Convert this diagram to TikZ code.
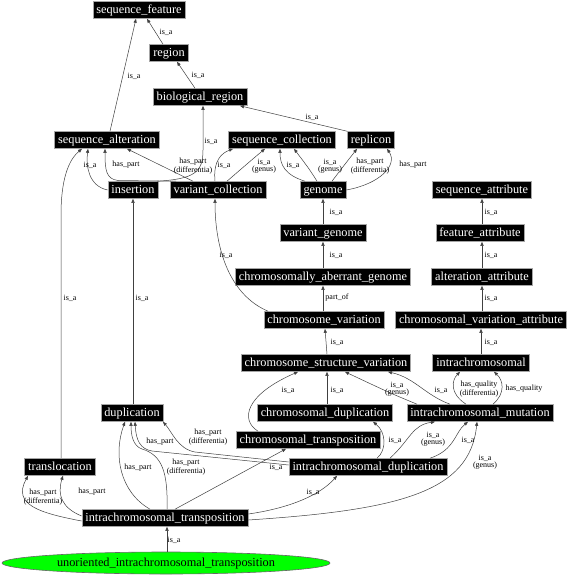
\documentclass[tikz,border=0pt]{standalone}
\usepackage{fontspec}
\setmainfont{Liberation Serif}
\usetikzlibrary{arrows.meta,shapes.geometric}
\begin{document}
\begin{tikzpicture}[x=1pt,y=-1pt,
  nb/.style={fill=black,draw=black!35,line width=0.6pt,text=white,font=\fontsize{12.3}{13}\selectfont,
    inner xsep=3.5pt,inner ysep=0pt,minimum height=17pt,text height=8.5pt,text depth=2.5pt},
  ell/.style={ellipse,fill=green,draw=black!60,line width=0.6pt,font=\fontsize{12.3}{13}\selectfont,
    inner sep=0pt,minimum width=328pt,minimum height=22pt,text height=8.5pt,text depth=2.5pt},
  lab/.style={font=\fontsize{8}{7}\selectfont,align=center,inner sep=0pt},
  ed/.style={draw=black!75,line width=0.5pt,-{Triangle[length=4pt,width=3.2pt]}}]
\useasboundingbox[fill=white] (0,0) rectangle (573,576);
% nodes
\node[nb] (sf) at (139,10) {sequence\_feature};
\node[nb] (rg) at (169,53) {region};
\node[nb] (br) at (200,97) {biological\_region};
\node[nb] (sa) at (107,140) {sequence\_alteration};
\node[nb] (sc) at (282,140) {sequence\_collection};
\node[nb] (rp) at (371,140) {replicon};
\node[nb] (ins) at (133,190) {insertion};
\node[nb] (vc) at (218,190) {variant\_collection};
\node[nb] (gn) at (323,190) {genome};
\node[nb] (sat) at (482,190) {sequence\_attribute};
\node[nb] (vg) at (323,233) {variant\_genome};
\node[nb] (fa) at (480,233) {feature\_attribute};
\node[nb] (cag) at (323,277) {chromosomally\_aberrant\_genome};
\node[nb] (aa) at (482,277) {alteration\_attribute};
\node[nb] (cv) at (324,320) {chromosome\_variation};
\node[nb] (cva) at (481,320) {chromosomal\_variation\_attribute};
\node[nb] (csv) at (326,363) {chromosome\_structure\_variation};
\node[nb] (ic) at (481,363) {intrachromosomal};
\node[nb] (dup) at (132,413) {duplication};
\node[nb] (cd) at (325,413) {chromosomal\_duplication};
\node[nb] (im) at (480,413) {intrachromosomal\_mutation};
\node[nb] (ct) at (308,440) {chromosomal\_transposition};
\node[nb] (id) at (368,467) {intrachromosomal\_duplication};
\node[nb] (tl) at (60,467) {translocation};
\node[nb] (it) at (165,518) {intrachromosomal\_transposition};
\node[ell] (uit) at (166,563) {unoriented\_intrachromosomal\_transposition};
% edges
\draw[ed] ([xshift=-6pt]rg.north) -- ([xshift=8pt]sf.south);
\draw[ed] ([xshift=3pt]sa.north) -- ([xshift=-3pt]sf.south);
\draw[ed] ([xshift=-5pt]br.north) -- ([xshift=8pt]rg.south);
\draw[ed] ([xshift=-24pt]rp.north) -- ([xshift=40pt]br.south);
\draw[ed] ([xshift=24pt]ins.north) .. controls (195,179) and (203,172) .. (203,150) -- ([xshift=3pt]br.south);
\draw[ed] (ins.west) .. controls (88,186) and (86,165) .. ([xshift=-19pt]sa.south);
\draw[ed] ([xshift=-42pt]vc.north) -- (118,180.5) .. controls (106,179) and (105,170) .. ([xshift=-2pt]sa.south);
\draw[ed] ([xshift=-25pt]vc.north) -- ([xshift=20pt]sa.south);
\draw[ed] ([xshift=-3pt]vc.north) .. controls (213,160) and (222,153) .. ([xshift=-49pt]sc.south);
\draw[ed] ([xshift=9pt]vc.north) .. controls (240,170) and (255,157) .. ([xshift=-17pt]sc.south);
\draw[ed] ([xshift=-18pt]gn.north) .. controls (285,175) and (280,165) .. ([xshift=-2pt]sc.south);
\draw[ed] ([xshift=-6pt]gn.north) .. controls (310,170) .. ([xshift=12pt]sc.south);
\draw[ed] ([xshift=9pt]gn.north) .. controls (342,168) .. ([xshift=-14pt]rp.south);
\draw[ed] (gn.east) .. controls (380,184) and (398,165) .. ([xshift=16pt]rp.south);
\draw[ed] (vg) -- (gn);
\draw[ed] (cag) -- (vg);
\draw[ed] (cag.south |- cv.north) -- (cag);
\draw[ed] ([xshift=-56pt]cv.north) .. controls (230,295) and (215,250) .. ([xshift=-3pt]vc.south);
\draw[ed] ([xshift=1pt]csv.north) -- ([xshift=1pt]cv.south);
\draw[ed] (fa.north -| sat.south) -- (sat);
\draw[ed] (aa.north -| sat.south) -- (fa.south -| sat.south);
\draw[ed] (cva.north -| sat.south) -- (aa);
\draw[ed] (ic.north) -- (cva.south -| ic.north);
\draw[ed] ([xshift=1pt]dup.north) -- (ins.south);
\draw[ed] ([xshift=1pt]tl.north) -- (61,215) .. controls (61,172) and (72,157) .. ([xshift=-25pt]sa.south);
\draw[ed] ([xshift=2pt]cd.north) -- ([xshift=1pt]csv.south);
\draw[ed] ([xshift=-50pt]ct.north) .. controls (240,420) and (245,395) .. ([xshift=-28pt]csv.south);
\draw[ed] ([xshift=-63pt]im.north) .. controls (390,393) .. ([xshift=19pt]csv.south);
\draw[ed] ([xshift=-30pt]im.north) .. controls (425,395) and (415,378) .. ([xshift=62pt]csv.south);
\draw[ed] ([xshift=-14pt]im.north) .. controls (449,393) and (452,380) .. ([xshift=-21pt]ic.south);
\draw[ed] ([xshift=13pt]im.north) .. controls (506,393) and (503,380) .. ([xshift=13pt]ic.south);
\draw[ed] ([xshift=9pt]id.north) .. controls (387,450) and (386,432) .. ([xshift=48pt]cd.south);
\draw[ed] ([xshift=22pt]id.north) .. controls (410,440) and (412,425) .. ([xshift=-45pt]im.south);
\draw[ed] ([xshift=62pt]id.north) .. controls (455,450) and (455,432) .. ([xshift=-12pt]im.south);
\draw[ed] ([yshift=2pt]id.west) -- (152,451) .. controls (140,449) and (136,440) .. ([xshift=3pt]dup.south);
\draw[ed] ([yshift=5pt]id.west) -- (195,452) .. controls (178,449) and (172,432) .. ([xshift=31pt]dup.south);
\draw[ed] ([yshift=4pt]it.east) .. controls (290,508) and (320,495) .. ([xshift=-31pt]id.south);
\draw[ed] ([xshift=10pt]it.north) -- ([xshift=-22pt]ct.south);
\draw[ed] ([yshift=-2pt]it.east) .. controls (400,510) and (470,492) .. ([xshift=-3pt]im.south);
\draw[ed] ([xshift=-15pt]it.north) .. controls (120,492) and (113,455) .. ([xshift=-7pt]dup.south);
\draw[ed] ([xshift=2pt]it.north) .. controls (168,472) and (162,455) .. (142,449) .. controls (133,446) and (131,435) .. ([xshift=-1pt]dup.south);
\draw[ed] ([yshift=-3pt]it.west) .. controls (40,513) and (12,505) .. ([xshift=-32pt]tl.south);
\draw[ed] ([yshift=2pt]it.west) .. controls (62,508) and (57,495) .. ([xshift=3pt]tl.south);
\draw[ed] ([xshift=1pt]uit.north) -- ([xshift=2pt]it.south);
% labels
\node[lab] (l1) at (166,32) {is\_a};
\node[lab] (l2) at (134,76) {is\_a};
\node[lab] (l3) at (198,75) {is\_a};
\node[lab] (l4) at (312,117) {is\_a};
\node[lab] (l5) at (211,141) {is\_a};
\node[lab] (l6) at (90,165) {is\_a};
\node[lab] (l7) at (126,165) {has\_part};
\node[lab] (l8) at (193,166) {has\_part\\(differentia)};
\node[lab] (l9) at (224,165) {is\_a};
\node[lab] (l10) at (264,166) {is\_a\\(genus)};
\node[lab] (l11) at (293,165) {is\_a};
\node[lab] (l12) at (330,166) {is\_a\\(genus)};
\node[lab] (l13) at (370,166) {has\_part\\(differentia)};
\node[lab] (l14) at (413,165) {has\_part};
\node[lab] (l15) at (336,212) {is\_a};
\node[lab] (l16) at (336,255) {is\_a};
\node[lab] (l17) at (337,298) {part\_of};
\node[lab] (l18) at (226,255) {is\_a};
\node[lab] (l19) at (337,342) {is\_a};
\node[lab] (l20) at (491,212) {is\_a};
\node[lab] (l21) at (491,255) {is\_a};
\node[lab] (l22) at (491,298) {is\_a};
\node[lab] (l23) at (491,342) {is\_a};
\node[lab] (l24) at (142,298) {is\_a};
\node[lab] (l25) at (70,298) {is\_a};
\node[lab] (l26) at (337,390) {is\_a};
\node[lab] (l27) at (288,390) {is\_a};
\node[lab] (l28) at (397,389) {is\_a\\(genus)};
\node[lab] (l29) at (441,390) {is\_a};
\node[lab] (l30) at (479,389) {has\_quality\\(differentia)};
\node[lab] (l31) at (524,389) {has\_quality};
\node[lab] (l32) at (395,440) {is\_a};
\node[lab] (l33) at (433,439) {is\_a\\(genus)};
\node[lab] (l34) at (468,440) {is\_a};
\node[lab] (l35) at (160,442) {has\_part};
\node[lab] (l36) at (208,437) {has\_part\\(differentia)};
\node[lab] (l37) at (313,492) {is\_a};
\node[lab] (l38) at (276,467) {is\_a};
\node[lab] (l39) at (485,462) {is\_a\\(genus)};
\node[lab] (l40) at (138,468) {has\_part};
\node[lab] (l41) at (186,467) {has\_part\\(differentia)};
\node[lab] (l42) at (43,497) {has\_part\\(differentia)};
\node[lab] (l43) at (92,492) {has\_part};
\node[lab] (l44) at (174,540) {is\_a};
\end{tikzpicture}
\end{document}
